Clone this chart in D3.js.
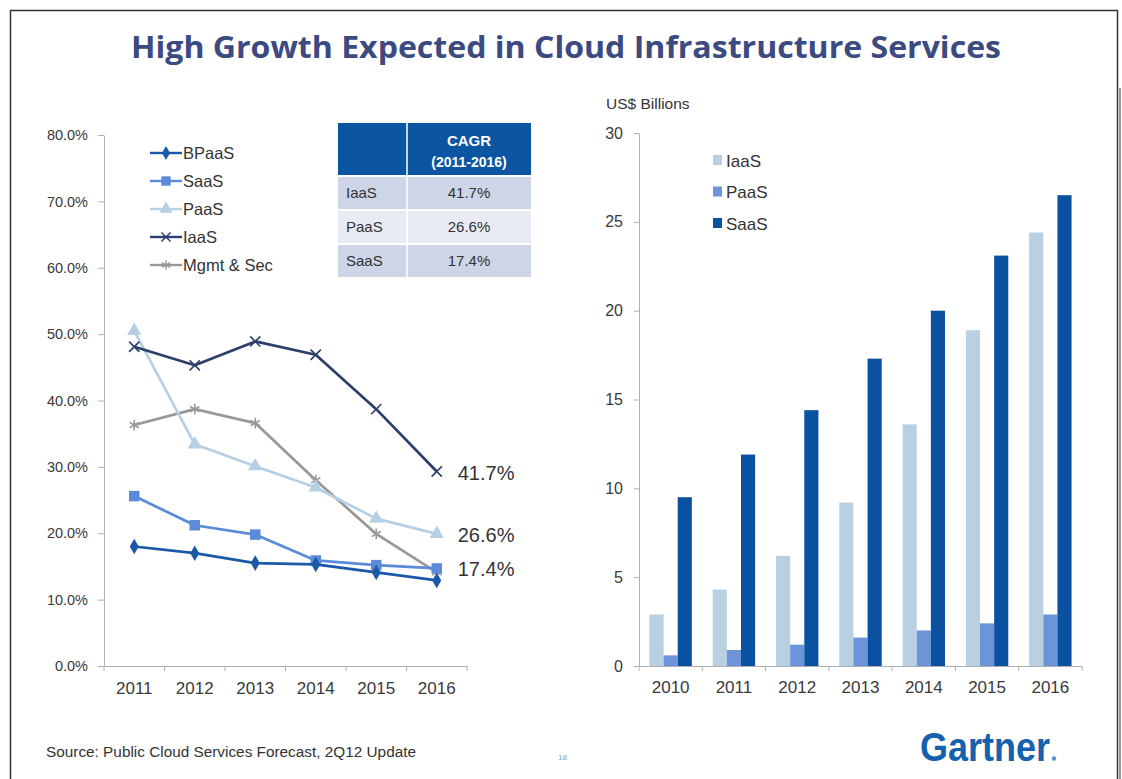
<!DOCTYPE html>
<html>
<head>
<meta charset="UTF-8">
<title>High Growth Expected in Cloud Infrastructure Services</title>
<script src="https://d3js.org/d3.v7.min.js"></script>
<style>
  body { margin: 0; background: #fff; font-family: "Liberation Sans", Arial, sans-serif; }
  .axis path, .axis line { stroke: #b0b0b0; }
  .axis text { fill: #3a3a3a; font-family: "Liberation Sans", Arial, sans-serif; }
</style>
</head>
<body>
<div id="chart"></div>
<script>
// ---- data: growth rates (left) ----
const growthYears = ["2011", "2012", "2013", "2014", "2015", "2016"];
const growthSeries = ["BPaaS", "SaaS", "PaaS", "IaaS", "Mgmt & Sec"];
const bpaas = [18.0, 17.0, 15.5, 15.3, 14.1, 12.9];
const saasGrowth = [25.6, 21.2, 19.8, 15.9, 15.2, 14.7];
const paasGrowth = [50.5, 33.4, 30.1, 26.9, 22.2, 19.9];
const iaasGrowth = [48.1, 45.3, 48.9, 46.9, 38.7, 29.3];
const mgmtSec = [36.3, 38.7, 36.6, 28.0, 19.9, 14.1];
const growthTicks = [0, 10, 20, 30, 40, 50, 60, 70, 80];

// CAGR table
const cagrNames = ["IaaS", "PaaS", "SaaS"];
const cagrValues = ["41.7%", "26.6%", "17.4%"];

// ---- data: revenue (right) ----
const revYears = ["2010", "2011", "2012", "2013", "2014", "2015", "2016"];
const revSeries = ["IaaS", "PaaS", "SaaS"];
const iaasRev = [2.9, 4.3, 6.2, 9.2, 13.6, 18.9, 24.4];
const paasRev = [0.6, 0.9, 1.2, 1.6, 2.0, 2.4, 2.9];
const saasRev = [9.5, 11.9, 14.4, 17.3, 20.0, 23.1, 26.5];
const revTicks = [0, 5, 10, 15, 20, 25, 30];

const W = 1122, H = 779;
const svg = d3.select("#chart").append("svg")
  .attr("width", W).attr("height", H)
  .style("display", "block");

svg.append("rect").attr("width", W).attr("height", H).attr("fill", "#fff");

// slide frame
svg.append("path").attr("d", "M10.5,779 V10.5 H1117.5 V779")
  .attr("fill", "none").attr("stroke", "#333").attr("stroke-width", 1.5);
svg.append("line").attr("x1", 1120).attr("x2", 1120).attr("y1", 88).attr("y2", 779)
  .attr("stroke", "#999").attr("stroke-width", 2);

// title
svg.append("text")
  .attr("x", 566).attr("y", 58)
  .attr("text-anchor", "middle")
  .attr("font-family", "'Open Sans', sans-serif")
  .attr("font-weight", 700)
  .attr("font-size", 30)
  .attr("fill", "#3b4a80")
  .attr("textLength", 870)
  .attr("lengthAdjust", "spacingAndGlyphs")
  .text("High Growth Expected in Cloud Infrastructure Services");

// ================= LEFT: line chart =================
const lx = d3.scaleBand().domain(growthYears).range([104, 467]);
const ly = d3.scaleLinear().domain([0, 80]).range([666, 135]);
const lcx = d => lx(d) + lx.bandwidth() / 2;

const yAxisL = svg.append("g").attr("class", "axis")
  .attr("transform", "translate(104,0)")
  .call(d3.axisLeft(ly).tickValues(growthTicks).tickSize(6).tickSizeOuter(0).tickPadding(10)
    .tickFormat(d => d.toFixed(1) + "%"));
yAxisL.selectAll("text").attr("font-size", 14.5);

const xAxisL = svg.append("g").attr("class", "axis")
  .attr("transform", "translate(0,666)")
  .call(d3.axisBottom(lx).tickSize(0).tickSizeOuter(0).tickPadding(16));
xAxisL.selectAll("text").attr("font-size", 17).attr("fill", "#333");
xAxisL.selectAll(".sep")
  .data(growthYears.map(d => lx(d)).concat([lx.range()[1]]))
  .enter().append("line").attr("class", "sep")
  .attr("x1", d => d).attr("x2", d => d).attr("y1", 0).attr("y2", 5);

const lineDefs = [
  { name: "BPaaS", values: bpaas, color: "#1a58a8", symbol: d3.symbolDiamond, size: 70, stroke: false },
  { name: "SaaS", values: saasGrowth, color: "#5b8bd8", symbol: d3.symbolSquare, size: 110, stroke: false },
  { name: "PaaS", values: paasGrowth, color: "#b6cfe4", symbol: d3.symbolTriangle, size: 90, stroke: false },
  { name: "IaaS", values: iaasGrowth, color: "#2b3e6c", symbol: d3.symbolTimes, size: 70, stroke: true },
  { name: "Mgmt & Sec", values: mgmtSec, color: "#989898", symbol: d3.symbolAsterisk, size: 80, stroke: true }
];

const line = d3.line().x((d, i) => lcx(growthYears[i])).y(d => ly(d));

// draw bottom-most first so dark lines sit on top
const drawOrder = ["Mgmt & Sec", "PaaS", "SaaS", "IaaS", "BPaaS"];
drawOrder.forEach(n => {
  const s = lineDefs.find(l => l.name === n);
  const g = svg.append("g");
  g.append("path").datum(s.values)
    .attr("d", line)
    .attr("fill", "none")
    .attr("stroke", s.color)
    .attr("stroke-width", 2.7)
    .attr("stroke-linejoin", "round");
  g.selectAll("path.mk").data(s.values).enter().append("path")
    .attr("class", "mk")
    .attr("transform", (d, i) => `translate(${lcx(growthYears[i])},${ly(d)})`)
    .attr("d", d3.symbol().type(s.symbol).size(s.size))
    .attr("fill", s.stroke ? "none" : s.color)
    .attr("stroke", s.color)
    .attr("stroke-width", s.stroke ? 1.6 : 0);
});

// end labels (CAGR)
const endLabels = [
  { value: cagrValues[0], at: iaasGrowth[5] },
  { value: cagrValues[1], at: paasGrowth[5] },
  { value: cagrValues[2], at: saasGrowth[5] }
];
svg.selectAll(".endlab").data(endLabels).enter().append("text")
  .attr("class", "endlab")
  .attr("x", lcx("2016") + 21)
  .attr("y", d => ly(d.at) + 8)
  .attr("font-size", 20)
  .attr("fill", "#333")
  .text(d => d.value);

// legend
const legL = svg.append("g").attr("transform", "translate(150,153)");
lineDefs.forEach((s, i) => {
  const g = legL.append("g").attr("transform", `translate(0,${i * 28})`);
  g.append("line").attr("x1", 0).attr("x2", 32).attr("stroke", s.color).attr("stroke-width", 2.4);
  g.append("path").attr("transform", "translate(16,0)")
    .attr("d", d3.symbol().type(s.symbol).size(s.size * 0.8))
    .attr("fill", s.stroke ? "none" : s.color)
    .attr("stroke", s.color).attr("stroke-width", s.stroke ? 1.4 : 0);
  g.append("text").attr("x", 33).attr("y", 6)
    .attr("font-size", 16.5).attr("fill", "#333").text(s.name);
});

// CAGR table
const tbl = svg.append("g");
tbl.append("rect").attr("x", 338).attr("y", 123).attr("width", 193).attr("height", 52).attr("fill", "#0b55a3");
tbl.append("line").attr("x1", 407).attr("x2", 407).attr("y1", 123).attr("y2", 175)
  .attr("stroke", "#fff").attr("stroke-width", 1.5);
tbl.append("text").attr("x", 469).attr("y", 146).attr("text-anchor", "middle")
  .attr("font-size", 15).attr("font-weight", "bold").attr("fill", "#fff").text("CAGR");
tbl.append("text").attr("x", 469).attr("y", 167).attr("text-anchor", "middle")
  .attr("font-size", 14).attr("font-weight", "bold").attr("fill", "#fff").text("(2011-2016)");
cagrNames.forEach((n, i) => {
  const y0 = 177 + i * 34;
  const fill = i % 2 === 0 ? "#ced5e7" : "#e8ebf4";
  tbl.append("rect").attr("x", 338).attr("y", y0).attr("width", 193).attr("height", 32).attr("fill", fill);
  tbl.append("line").attr("x1", 407).attr("x2", 407).attr("y1", y0).attr("y2", y0 + 32)
    .attr("stroke", "#fff").attr("stroke-width", 1.5);
  tbl.append("text").attr("x", 346).attr("y", y0 + 21)
    .attr("font-size", 15).attr("fill", "#333").text(n);
  tbl.append("text").attr("x", 469).attr("y", y0 + 21).attr("text-anchor", "middle")
    .attr("font-size", 15).attr("fill", "#333").text(cagrValues[i]);
});

// ================= RIGHT: grouped bars =================
const rx0 = d3.scaleBand().domain(revYears).range([639, 1082]);
const bw = rx0.bandwidth();
const rx1 = d3.scaleBand().domain(revSeries).range([bw * 0.165, bw * 0.835]);
const ry = d3.scaleLinear().domain([0, 30]).range([666, 133]);
const revColors = { IaaS: "#b9cfe2", PaaS: "#6b94d9", SaaS: "#0a52a1" };
const revData = { IaaS: iaasRev, PaaS: paasRev, SaaS: saasRev };

const yAxisR = svg.append("g").attr("class", "axis")
  .attr("transform", "translate(639,0)")
  .call(d3.axisLeft(ry).tickValues(revTicks).tickSize(5).tickSizeOuter(0).tickPadding(11));
yAxisR.selectAll("text").attr("font-size", 16);

svg.append("text").attr("x", 606).attr("y", 109)
  .attr("font-size", 15.5).attr("fill", "#333").text("US$ Billions");

const grp = svg.selectAll(".yr").data(revYears).enter().append("g")
  .attr("class", "yr").attr("transform", d => `translate(${rx0(d)},0)`);
grp.selectAll("rect").data((d, i) => revSeries.map(s => ({ s, v: revData[s][i] })))
  .enter().append("rect")
  .attr("x", d => rx1(d.s))
  .attr("width", rx1.bandwidth())
  .attr("y", d => ry(d.v))
  .attr("height", d => ry(0) - ry(d.v))
  .attr("fill", d => revColors[d.s]);

const xAxisR = svg.append("g").attr("class", "axis")
  .attr("transform", "translate(0,666)")
  .call(d3.axisBottom(rx0).tickSize(0).tickSizeOuter(0).tickPadding(15));
xAxisR.selectAll("text").attr("font-size", 17).attr("fill", "#333");
xAxisR.selectAll(".sep")
  .data(revYears.map(d => rx0(d)).concat([rx0.range()[1]]))
  .enter().append("line").attr("class", "sep")
  .attr("x1", d => d).attr("x2", d => d).attr("y1", 0).attr("y2", 5);

const legR = svg.append("g").attr("transform", "translate(713,160)");
revSeries.forEach((s, i) => {
  const g = legR.append("g").attr("transform", `translate(0,${i * 31.5})`);
  g.append("rect").attr("x", 0).attr("y", -5).attr("width", 9).attr("height", 10).attr("fill", revColors[s]);
  g.append("text").attr("x", 13).attr("y", 6.5).attr("font-size", 17).attr("fill", "#333").text(s);
});

// footer
svg.append("text").attr("x", 46).attr("y", 757)
  .attr("font-size", 14).attr("fill", "#333")
  .attr("textLength", 370).attr("lengthAdjust", "spacingAndGlyphs")
  .text("Source: Public Cloud Services Forecast, 2Q12 Update");
svg.append("text").attr("x", 558).attr("y", 760)
  .attr("font-size", 8).attr("fill", "#7a9cc8").text("18");
svg.append("text").attr("x", 920).attr("y", 761)
  .attr("font-size", 40).attr("font-weight", "bold").attr("fill", "#1461ae")
  .attr("textLength", 130).attr("lengthAdjust", "spacingAndGlyphs")
  .text("Gartner");
svg.append("circle").attr("cx", 1054).attr("cy", 758.5).attr("r", 2.2).attr("fill", "#5d8fc9");
</script>
</body>
</html>
